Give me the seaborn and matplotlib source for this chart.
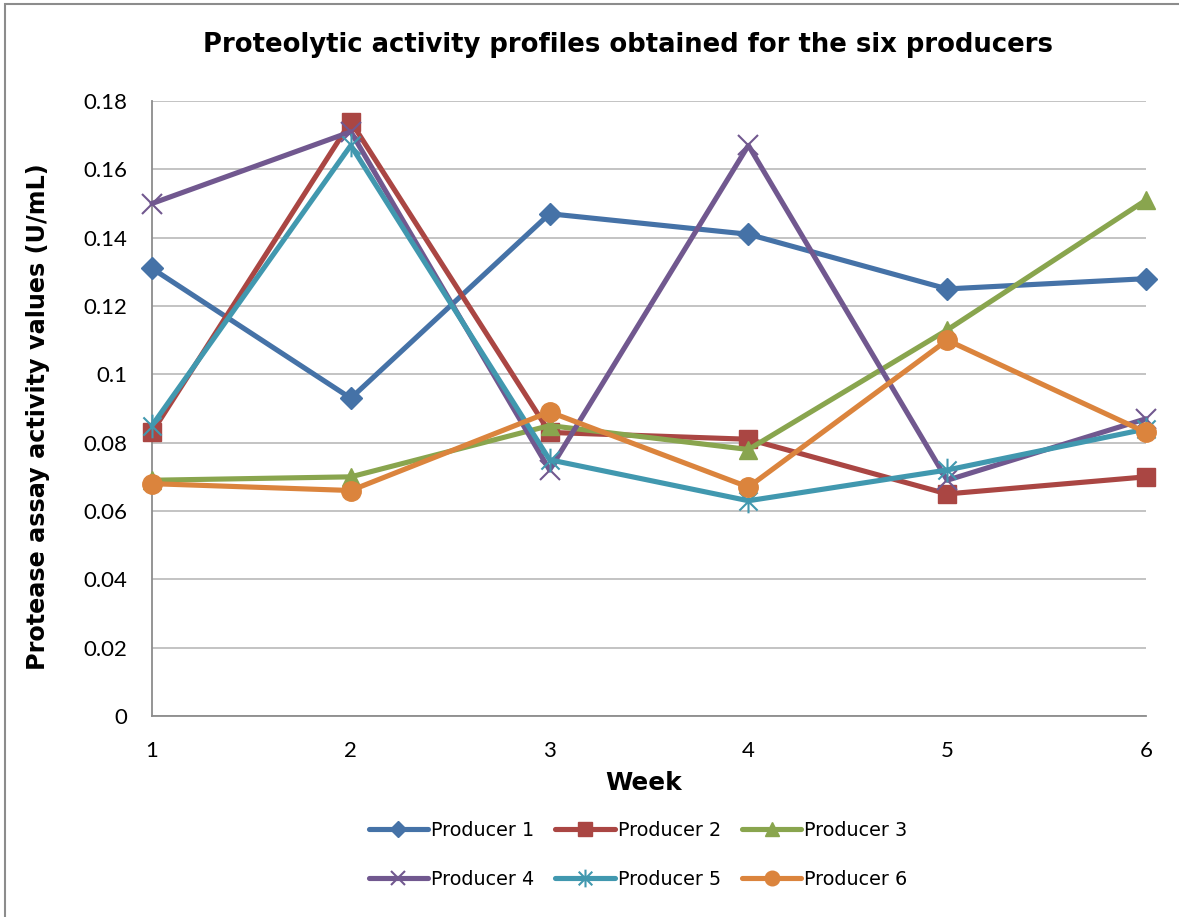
import numpy as np
import pandas as pd
import seaborn as sns
import matplotlib.pyplot as plt
from matplotlib.path import Path
from matplotlib.patches import Rectangle
from matplotlib.lines import Line2D

# --- Data ---
weeks = [1, 2, 3, 4, 5, 6]
producer_1 = [0.131, 0.093, 0.147, 0.141, 0.125, 0.128]
producer_2 = [0.083, 0.174, 0.083, 0.081, 0.065, 0.070]
producer_3 = [0.069, 0.070, 0.085, 0.078, 0.113, 0.151]
producer_4 = [0.150, 0.171, 0.072, 0.167, 0.069, 0.087]
producer_5 = [0.085, 0.167, 0.075, 0.063, 0.072, 0.084]
producer_6 = [0.068, 0.066, 0.089, 0.067, 0.110, 0.083]
producer_names = ["Producer 1", "Producer 2", "Producer 3",
                  "Producer 4", "Producer 5", "Producer 6"]
y_ticks = [0, 0.02, 0.04, 0.06, 0.08, 0.1, 0.12, 0.14, 0.16, 0.18]
y_tick_labels = ["0", "0.02", "0.04", "0.06", "0.08", "0.1",
                 "0.12", "0.14", "0.16", "0.18"]

series = [producer_1, producer_2, producer_3, producer_4, producer_5, producer_6]
df = pd.DataFrame({
    "Week": weeks * len(series),
    "Value": [v for s in series for v in s],
    "Producer": [n for n in producer_names for _ in weeks],
})

# Excel-style "star" marker: an x with a vertical bar
star = Path([(-1, -1), (1, 1), (-1, 1), (1, -1), (0, -1.3), (0, 1.3)],
            [Path.MOVETO, Path.LINETO, Path.MOVETO, Path.LINETO, Path.MOVETO, Path.LINETO])

colors = ["#4572A7", "#AA4643", "#89A54E", "#71588F", "#4198AF", "#DB843D"]
markers = ["D", "s", "^", "x", star, "o"]
msizes = [11, 13, 13, 14, 17, 14]
mews = [1, 1, 1, 1.5, 1.5, 1]

sns.set_style("white")
plt.rcParams['font.family'] = ['Lato', 'DejaVu Sans']
plt.rcParams['text.color'] = 'black'
heavy = dict(family="DejaVu Sans", fontweight="bold", color="black")

fig = plt.figure(figsize=(11.79, 9.17), dpi=100)
ax = fig.add_axes([152 / 1179, 1 - 716 / 917, 994 / 1179, 615 / 917])

handles = []
for name, col, mk, ms, mew in zip(producer_names, colors, markers, msizes, mews):
    sub = df[df["Producer"] == name]
    sns.lineplot(data=sub, x="Week", y="Value", color=col, marker=mk,
                 markersize=ms, markeredgecolor=col, markeredgewidth=mew,
                 linewidth=3.7, ax=ax, legend=False, zorder=3, clip_on=False)
    handles.append(Line2D([], [], color=col, marker=mk, markersize=ms * 0.75,
                          markeredgecolor=col, markeredgewidth=mew, linewidth=3.7))

ax.set_xlim(1, 6)
ax.set_ylim(0, 0.18)
ax.set_xticks(weeks)
ax.set_xticklabels([str(w) for w in weeks])
ax.set_yticks(y_ticks)
ax.set_yticklabels(y_tick_labels)
ax.tick_params(axis="both", length=0, labelsize=16, colors="black")
ax.tick_params(axis="y", pad=18)
ax.tick_params(axis="x", pad=18)
ax.grid(axis="y", color="#BEBEBE", linewidth=1.3)
ax.grid(axis="x", visible=False)
for side in ["top", "right"]:
    ax.spines[side].set_visible(False)
for side in ["left", "bottom"]:
    ax.spines[side].set_color("#8C8C8C")
    ax.spines[side].set_linewidth(1.3)
ax.set_xlabel("")
ax.set_ylabel("")

fig.text(628 / 1179, 1 - 45 / 917,
         "Proteolytic activity profiles obtained for the six producers",
         ha="center", va="center", fontsize=18.6, **heavy)
fig.text(644 / 1179, 1 - 783 / 917, "Week", ha="center", va="center",
         fontsize=17.8, **heavy)
fig.text(38 / 1179, 1 - 417 / 917, "Protease assay activity values (U/mL)",
         ha="center", va="center", rotation=90, fontsize=17.2, **heavy)

# legend laid out row-wise like Excel
order = [0, 3, 1, 4, 2, 5]
leg = fig.legend([handles[i] for i in order], [producer_names[i] for i in order],
                 loc="center", bbox_to_anchor=(638 / 1179, 1 - 855 / 917), ncol=3,
                 frameon=False, prop={"family": "DejaVu Sans", "size": 13.8},
                 handlelength=3.1, handletextpad=0.15,
                 columnspacing=1.1, labelspacing=1.55)
for t in leg.get_texts():
    t.set_color("black")

# chart area border
fig.patches.append(Rectangle((5 / 1179, -0.05), 1.2, 1 - 4 / 917 + 0.05,
                             transform=fig.transFigure, fill=False,
                             edgecolor="#8C8C8C", linewidth=1.5))

fig.savefig("out.png", dpi=100)
